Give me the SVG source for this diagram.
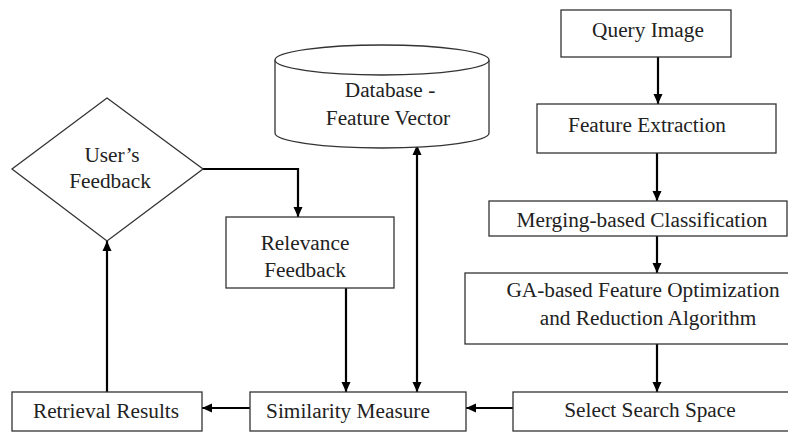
<svg xmlns="http://www.w3.org/2000/svg" width="788" height="432" viewBox="0 0 788 432">
<style>
.box{fill:#fff;stroke:#333;stroke-width:1.3}
text{font-family:'Liberation Serif','Times New Roman','DejaVu Serif',serif;font-size:21.3px;fill:#222;text-anchor:middle}
.c{fill:none;stroke:#000;stroke-width:2.2}
</style>
<defs>
<marker id="ah" viewBox="0 0 10 10" refX="10" refY="5" markerWidth="10" markerHeight="10" markerUnits="userSpaceOnUse" orient="auto-start-reverse">
<path d="M0,0.5 L10,5 L0,9.5 Z" fill="#000"/>
</marker>
</defs>
<rect width="788" height="432" fill="#fff"/>
<g id="connectors">
<line class="c" x1="658" y1="57" x2="658" y2="104" marker-end="url(#ah)"/>
<line class="c" x1="657" y1="153" x2="657" y2="201" marker-end="url(#ah)"/>
<line class="c" x1="657" y1="236" x2="657" y2="273" marker-end="url(#ah)"/>
<line class="c" x1="657" y1="344" x2="657" y2="392" marker-end="url(#ah)"/>
<line class="c" x1="513" y1="408" x2="466" y2="408" marker-end="url(#ah)"/>
<line class="c" x1="250" y1="408" x2="202" y2="408" marker-end="url(#ah)"/>
<line class="c" x1="107" y1="392" x2="107" y2="241" marker-end="url(#ah)"/>
<polyline class="c" points="203,169 298,169 298,217" marker-end="url(#ah)"/>
<line class="c" x1="346" y1="288" x2="346" y2="392" marker-end="url(#ah)"/>
<line class="c" x1="417" y1="392" x2="417" y2="145" marker-start="url(#ah)" marker-end="url(#ah)"/>
</g>
<g id="query-image">
<rect class="box" x="561" y="10" width="170" height="47"/>
<text font-family="Liberation Serif, serif" x="648" y="37">Query Image</text>
</g>
<g id="feature-extraction">
<rect class="box" x="537" y="104" width="239" height="49"/>
<text font-family="Liberation Serif, serif" x="647" y="132">Feature Extraction</text>
</g>
<g id="merging-classification">
<rect class="box" x="489" y="201" width="298" height="35"/>
<text font-family="Liberation Serif, serif" x="642" y="227">Merging-based Classification</text>
</g>
<g id="ga-optimization">
<rect class="box" x="465" y="273" width="325" height="71"/>
<text font-family="Liberation Serif, serif" x="643" y="297">GA-based Feature Optimization</text>
<text font-family="Liberation Serif, serif" x="648" y="325">and Reduction Algorithm</text>
</g>
<g id="select-search-space">
<rect class="box" x="513" y="392" width="277" height="39"/>
<text font-family="Liberation Serif, serif" x="650" y="417">Select Search Space</text>
</g>
<g id="similarity-measure">
<rect class="box" x="250" y="392" width="216" height="39"/>
<text font-family="Liberation Serif, serif" x="348" y="418">Similarity Measure</text>
</g>
<g id="retrieval-results">
<rect class="box" x="12" y="392" width="190" height="39"/>
<text font-family="Liberation Serif, serif" x="106" y="418">Retrieval Results</text>
</g>
<g id="database">
<path class="box" d="M275,60 L275,133 A107,15 0 0 0 489,133 L489,60 A107,15 0 0 0 275,60 Z"/>
<path class="box" d="M275,60 A107,15 0 0 0 489,60" fill="none"/>
<text font-family="Liberation Serif, serif" x="390" y="97">Database -</text>
<text font-family="Liberation Serif, serif" x="388" y="125">Feature Vector</text>
</g>
<g id="users-feedback">
<polygon class="box" points="107,98 203,169 107,241 12,169"/>
<text font-family="Liberation Serif, serif" x="112" y="162">User’s</text>
<text font-family="Liberation Serif, serif" x="110" y="188">Feedback</text>
</g>
<g id="relevance-feedback">
<rect class="box" x="226" y="217" width="168" height="71"/>
<text font-family="Liberation Serif, serif" x="305" y="250">Relevance</text>
<text font-family="Liberation Serif, serif" x="305" y="277">Feedback</text>
</g>
</svg>
